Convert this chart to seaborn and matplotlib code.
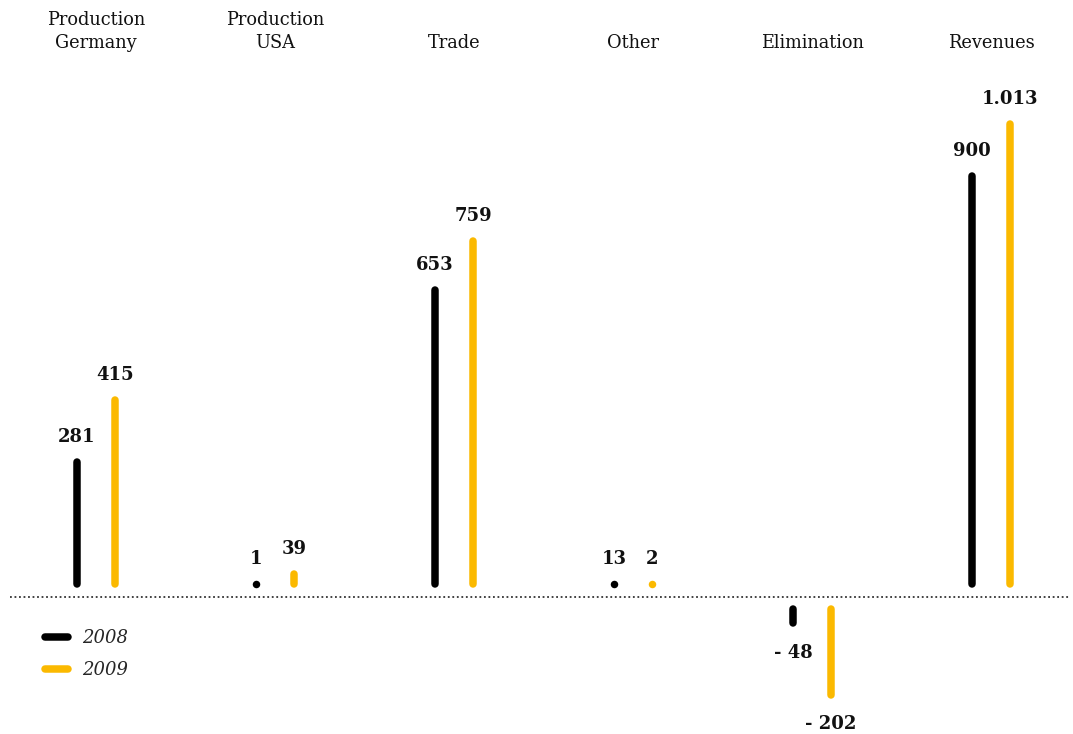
import matplotlib
matplotlib.use("Agg")
import matplotlib.pyplot as plt
from matplotlib.lines import Line2D
import seaborn as sns
import pandas as pd

# ---- data ----
categories = ["Production\nGermany", "Production\nUSA", "Trade", "Other", "Elimination", "Revenues"]
years = ["2008", "2009"]
values_2008 = [281, 1, 653, 13, -48, 900]
values_2009 = [415, 39, 759, 2, -202, 1013]
colors = {"2008": "#000000", "2009": "#FBB900"}

df = pd.DataFrame({
    "category": categories * 2,
    "year": ["2008"] * len(categories) + ["2009"] * len(categories),
    "value": values_2008 + values_2009,
})

sns.set_theme(style="white")
plt.rcParams["font.family"] = ["DejaVu Serif"]

W, H = 1073, 734
fig = plt.figure(figsize=(W / 100, H / 100), dpi=100)
ax = fig.add_axes([0, 0, 1, 1])
ax.set_axis_off()

# pixel scale helpers (styling only)
s = 0.462               # px per unit
u = 1 / s               # units per px
base_px = 137           # baseline from bottom, px
ax.set_xlim(-96 / 179, (W - 96) / 179)
ax.set_ylim(-base_px * u, (H - base_px) * u)

lw_px = 7.5
lw_pt = lw_px * 0.72
gap_pos = 9 * u
gap_neg = 8 * u
r = lw_px / 2 * u
offset = {"2008": -19 / 179, "2009": 19 / 179}


def fmt(v):
    a = f"{abs(v):,}".replace(",", ".")
    return a if v >= 0 else "- " + a


cat_index = {c: i for i, c in enumerate(categories)}
for _, row in df.iterrows():
    x = cat_index[row["category"]] + offset[row["year"]]
    v = row["value"]
    c = colors[row["year"]]
    if v >= 0:
        if v * s <= lw_px:
            ax.plot([x], [gap_pos + r], marker="o", ms=lw_pt, color=c, mew=0)
            top = gap_pos + 2 * r
        else:
            ax.plot([x, x], [gap_pos + r, gap_pos + v - r], color=c, lw=lw_pt,
                    solid_capstyle="round")
            top = gap_pos + v
        ax.text(x, top + 16 * u, fmt(v), ha="center", va="baseline",
                fontsize=13, fontweight="bold", color="#111111")
    else:
        av = -v
        ax.plot([x, x], [-(gap_neg + r), -(gap_neg + av - r)], color=c, lw=lw_pt,
                solid_capstyle="round")
        ax.text(x, -(gap_neg + av) - 17 * u, fmt(v), ha="center", va="top",
                fontsize=13, fontweight="bold", color="#111111")

# category labels
for i, c in enumerate(categories):
    ax.text(i, (H - 52 - base_px) * u, c, ha="center", va="bottom",
            fontsize=12.8, linespacing=1.38, color="#111111")

# dotted baseline
ax.axhline(0, xmin=10 / W, xmax=1070 / W, color="#333333", lw=1.3,
           linestyle=(0, (1, 1.5)))

# legend
handles = [Line2D([0], [0], color=colors[y], lw=lw_pt, solid_capstyle="round")
           for y in years]
leg = ax.legend(handles, years, loc="upper left",
                bbox_to_anchor=(45 / W, 1 - 629 / H), frameon=False,
                prop={"family": "DejaVu Serif", "style": "italic", "size": 13},
                handlelength=1.25, handletextpad=0.8, labelspacing=0.78,
                borderaxespad=0, borderpad=0)

fig.savefig("out.png", dpi=100)
